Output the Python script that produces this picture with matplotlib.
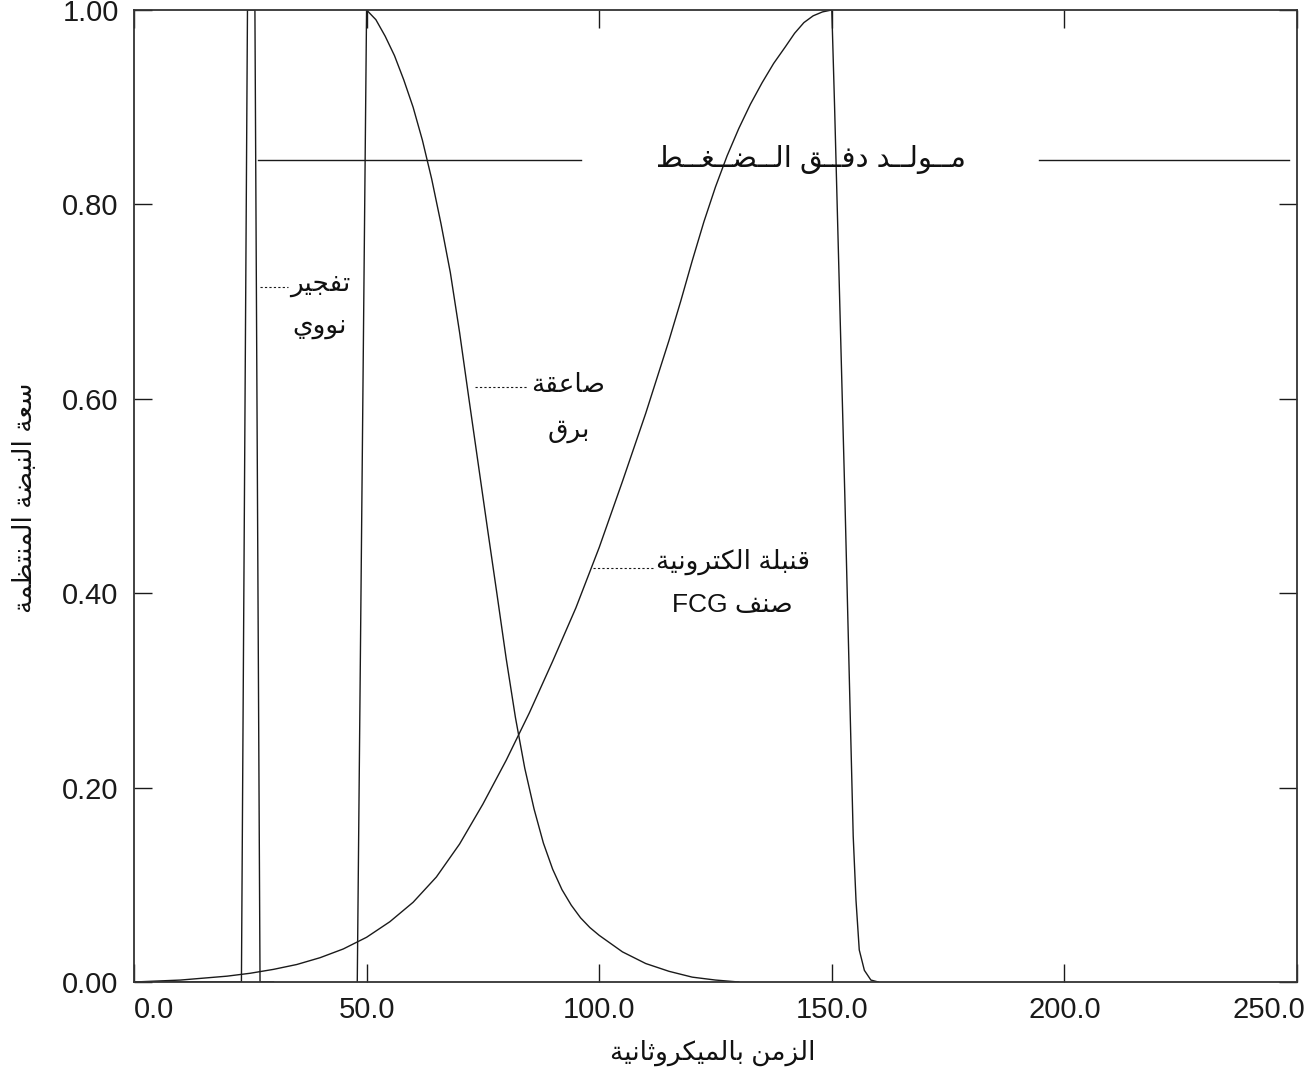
import numpy as np
import matplotlib
matplotlib.use("Agg")
import matplotlib.pyplot as plt
import matplotlib.transforms as mtransforms

plt.rcParams['font.family'] = ['Liberation Sans', 'DejaVu Sans']

# ---- data ----
# nuclear burst pulse
nuc_t = [0.0, 23.1, 24.4, 26.0, 27.1, 30.0]
nuc_y = [0.0, 0.0, 1.0, 1.0, 0.0, 0.0]

# lightning strike
ltn_t = [48.0, 50, 52, 54, 56, 58, 60, 62, 64, 66, 68, 70, 72, 74, 76, 78, 80,
         82, 84, 86, 88, 90, 92, 94, 96, 98, 100, 105, 110, 115, 120, 125, 130]
ltn_y = [0.0, 1.0, 0.99, 0.973, 0.953, 0.928, 0.90, 0.866, 0.826, 0.78, 0.73,
         0.668, 0.60, 0.533, 0.466, 0.40, 0.333, 0.272, 0.22, 0.178, 0.143,
         0.116, 0.095, 0.079, 0.066, 0.056, 0.048, 0.031, 0.019, 0.011, 0.005,
         0.002, 0.0]

# FCG electronic bomb
fcg_t = [0, 5, 10, 15, 20, 25, 30, 35, 40, 45, 50, 55, 60, 65, 70, 75, 80, 85,
         90, 95, 100, 105, 110, 115, 117.5, 120, 122.5, 125, 127.5, 130, 132.5,
         135, 137.5, 140, 142, 144, 146, 148, 150,
         150.6, 152.8, 154.6, 155.2, 155.9, 157.0, 158.4, 160.0]
fcg_y = [0, 0.001, 0.002, 0.004, 0.006, 0.009, 0.013, 0.018, 0.025, 0.034, 0.046,
         0.062, 0.082, 0.108, 0.142, 0.183, 0.228, 0.277, 0.330, 0.385, 0.447,
         0.515, 0.585, 0.66, 0.70, 0.742, 0.782, 0.818, 0.85, 0.878, 0.903,
         0.925, 0.945, 0.962, 0.976, 0.987, 0.994, 0.998, 1.0,
         0.90, 0.50, 0.15, 0.084, 0.033, 0.012, 0.002, 0.0]

# compression flux generator level line (two segments around the label)
pfg_t = [[26.7, 96.1], [194.6, 248.3]]
pfg_level = 0.846

x_ticks = [0, 50, 100, 150, 200, 250]
y_ticks = [0.0, 0.2, 0.4, 0.6, 0.8, 1.0]

x_label = "الزمن بالميكروثانية"
y_label = "سعة النبضة المنتظمة"
pfg_label = "مــولــد دفــق الــضــغــط"
nuc_label = ["تفجير", "نووي"]
ltn_label = ["صاعقة", "برق"]
fcg_label = ["قنبلة الكترونية", "صنف FCG"]

# ---- minimal arabic shaping (matplotlib draws glyphs left to right) ----
FORMS = {
    'ا': (0xFE8D, 2), 'ب': (0xFE8F, 4), 'ة': (0xFE93, 2), 'ت': (0xFE95, 4),
    'ث': (0xFE99, 4), 'ج': (0xFE9D, 4), 'ح': (0xFEA1, 4), 'خ': (0xFEA5, 4),
    'د': (0xFEA9, 2), 'ذ': (0xFEAB, 2), 'ر': (0xFEAD, 2), 'ز': (0xFEAF, 2),
    'س': (0xFEB1, 4), 'ش': (0xFEB5, 4), 'ص': (0xFEB9, 4), 'ض': (0xFEBD, 4),
    'ط': (0xFEC1, 4), 'ظ': (0xFEC5, 4), 'ع': (0xFEC9, 4), 'غ': (0xFECD, 4),
    'ف': (0xFED1, 4), 'ق': (0xFED5, 4), 'ك': (0xFED9, 4), 'ل': (0xFEDD, 4),
    'م': (0xFEE1, 4), 'ن': (0xFEE5, 4), 'ه': (0xFEE9, 4), 'و': (0xFEED, 2),
    'ى': (0xFEEF, 2), 'ي': (0xFEF1, 4),
}
TATWEEL = 'ـ'


def joins_next(c):
    return c == TATWEEL or (c in FORMS and FORMS[c][1] == 4)


def joins_prev(c):
    return c == TATWEEL or c in FORMS


def shape_word(w):
    out = []
    for i, c in enumerate(w):
        if c not in FORMS:
            out.append(c)
            continue
        base, n = FORMS[c]
        p = i > 0 and joins_next(w[i - 1])
        nx = n == 4 and i < len(w) - 1 and joins_prev(w[i + 1])
        if p and nx:
            out.append(chr(base + 3))
        elif p:
            out.append(chr(base + 1))
        elif nx:
            out.append(chr(base + 2))
        else:
            out.append(chr(base))
    return ''.join(reversed(out))


def ar(text):
    vis = []
    for w in text.split(' '):
        if any(c in FORMS or c == TATWEEL for c in w):
            vis.append(shape_word(w))
        else:
            vis.append(w)
    return ' '.join(reversed(vis))


# ---- figure ----
fig = plt.figure(figsize=(13.12, 10.71), dpi=100)
ax = fig.add_axes([0.1021, 0.0831, 0.8865, 0.9076])

lc = '#1a1a1a'
lw = 1.0
ax.plot(nuc_t, nuc_y, color=lc, lw=lw)
ax.plot(ltn_t, ltn_y, color=lc, lw=lw)
ax.plot(fcg_t, fcg_y, color=lc, lw=lw)
for seg in pfg_t:
    ax.plot(seg, [pfg_level, pfg_level], color=lc, lw=lw)

ax.set_xlim(0, 250)
ax.set_ylim(0, 1)
ax.set_xticks(x_ticks)
ax.set_yticks(y_ticks)
ax.set_xticklabels([f"{v:.1f}" for v in x_ticks])
ax.set_yticklabels([f"{v:.2f}" for v in y_ticks])
ax.tick_params(direction='in', top=True, right=True, length=13, width=1.0,
               labelsize=21, colors='#1a1a1a')
ax.tick_params(axis='x', pad=10)
ax.tick_params(axis='y', pad=11)
for s in ax.spines.values():
    s.set_linewidth(1.3)
    s.set_color('#333333')

# first / last x tick labels kept inside the frame like the reference
xl = ax.get_xticklabels()
xl[0].set_ha('left')
xl[-1].set_ha('right')
xl[-1].set_transform(xl[-1].get_transform() +
                     mtransforms.ScaledTranslation(8 / 100, 0, fig.dpi_scale_trans))

fs = 19
tk = dict(ha='center', va='center', fontsize=fs, color='#111111')
ax.text(145.5, pfg_level, ar(pfg_label), ha='center', va='center', fontsize=21,
        color='#111111')

ax.text(40.0, 0.717, ar(nuc_label[0]), **tk)
ax.text(40.0, 0.674, ar(nuc_label[1]), **tk)
ax.plot([27.1, 33.1], [0.715, 0.715], color=lc, lw=0.8, ls=(0, (2, 2)))

ax.text(93.4, 0.614, ar(ltn_label[0]), **tk)
ax.text(93.4, 0.567, ar(ltn_label[1]), **tk)
ax.plot([73.4, 84.8], [0.612, 0.612], color=lc, lw=0.8, ls=(0, (2, 2)))

ax.text(128.7, 0.432, ar(fcg_label[0]), **tk)
ax.text(128.7, 0.388, ar(fcg_label[1]), **tk)
ax.plot([98.6, 111.5], [0.426, 0.426], color=lc, lw=0.8, ls=(0, (2, 2)))

fig.text(0.543, 0.017, ar(x_label), ha='center', va='center', fontsize=fs, color='#111111')
fig.text(0.019, 0.535, ar(y_label), ha='center', va='center', rotation=90,
         fontsize=fs, color='#111111')

fig.savefig('out.png', dpi=100)
